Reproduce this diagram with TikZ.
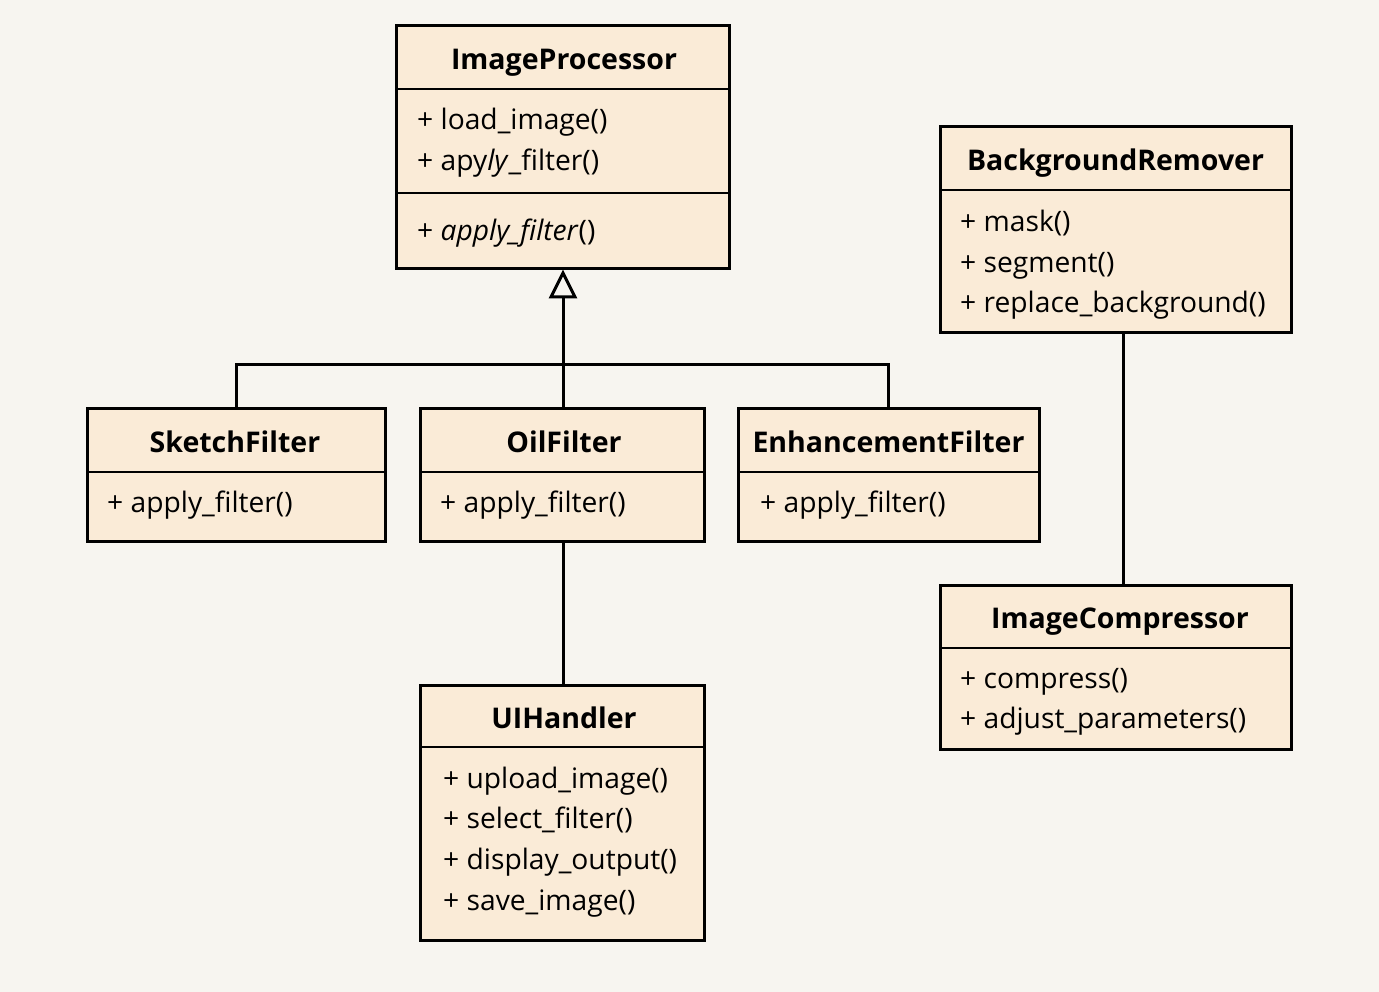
\documentclass[tikz,border=0pt]{standalone}
\usepackage{fontspec}
\setmainfont{Open Sans}
\usetikzlibrary{arrows.meta}
\definecolor{bgc}{HTML}{F7F5F0}
\definecolor{boxc}{HTML}{FAEBD7}
\tikzset{
  cls/.style={draw=black, line width=3pt, fill=boxc, anchor=north west, inner sep=0pt, outer sep=0pt},
  sep/.style={line width=2.5pt},
  title/.style={anchor=base, inner sep=0pt, font=\fontsize{28.5}{34}\selectfont\bfseries},
  item/.style={anchor=base west, inner sep=0pt, font=\fontsize{28.2}{34}\selectfont},
  conn/.style={line width=3pt},
}
\begin{document}
\begin{tikzpicture}[x=1pt,y=1pt]
\fill[bgc] (0,0) rectangle (1379,-992);
\useasboundingbox (0,0) rectangle (1379,-992);

% ImageProcessor
\node[cls, minimum width=333pt, minimum height=243pt] (ip) at (396,-26) {};
\draw[sep] (396,-89) -- (729,-89);
\draw[sep] (396,-193) -- (729,-193);
\node[title] (ipt) at (564,-70) {ImageProcessor};
\node[item] (ip1) at (417,-130) {+ load\_image()};
\node[item] (ip2) at (417,-171) {+ apy\textit{ly}\_filter()};
\node[item] (ip3) at (417,-241) {+ \textit{apply\_filter}()};

% BackgroundRemover
\node[cls, minimum width=351pt, minimum height=206pt] (br) at (940,-127) {};
\draw[sep] (940,-190) -- (1291,-190);
\node[title] (brt) at (1115.5,-171) {BackgroundRemover};
\node[item] (br1) at (960,-232) {+ mask()};
\node[item] (br2) at (960,-273) {+ segment()};
\node[item] (br3) at (960,-313) {+ replace\_background()};

% SketchFilter
\node[cls, minimum width=298pt, minimum height=133pt] (sf) at (87,-408) {};
\draw[sep] (87,-472) -- (385,-472);
\node[title] (sft) at (235,-452) {SketchFilter};
\node[item] (sf1) at (107,-512) {+ apply\_filter()};

% OilFilter
\node[cls, minimum width=284pt, minimum height=133pt] (of) at (420,-408) {};
\draw[sep] (420,-472) -- (704,-472);
\node[title] (oft) at (564,-452) {OilFilter};
\node[item] (of1) at (440,-512) {+ apply\_filter()};

% EnhancementFilter
\node[cls, minimum width=301pt, minimum height=133pt] (ef) at (738,-408) {};
\draw[sep] (738,-472) -- (1039,-472);
\node[title] (eft) at (888.5,-452) {EnhancementFilter};
\node[item] (ef1) at (760,-512) {+ apply\_filter()};

% ImageCompressor
\node[cls, minimum width=351pt, minimum height=164pt] (ic) at (940,-585) {};
\draw[sep] (940,-648) -- (1291,-648);
\node[title] (ict) at (1120,-628) {ImageCompressor};
\node[item] (ic1) at (960,-688) {+ compress()};
\node[item] (ic2) at (960,-728) {+ adjust\_parameters()};

% UIHandler
\node[cls, minimum width=284pt, minimum height=255pt] (ui) at (420,-685) {};
\draw[sep] (420,-747) -- (704,-747);
\node[title] (uit) at (564,-728) {UIHandler};
\node[item] (ui1) at (443,-788) {+ upload\_image()};
\node[item] (ui2) at (443,-828) {+ select\_filter()};
\node[item] (ui3) at (443,-869) {+ display\_output()};
\node[item] (ui4) at (443,-910) {+ save\_image()};

% connectors
\coordinate (bus) at (563,-364);
\draw[conn] (sf.north) |- (bus) -| (ef.north);
\draw[conn] ([xshift=1pt]of.north) -- (bus);
\draw[conn, -{Triangle[open, length=29pt, width=28pt, line width=3pt]}] (bus) -- ([xshift=0.5pt,yshift=-0.5pt]ip.south);
\draw[conn] ([xshift=1pt]of.south) -- ([xshift=1pt]ui.north);
\draw[conn] ([xshift=8pt]br.south) -- ([xshift=8pt]ic.north);
\end{tikzpicture}
\end{document}
